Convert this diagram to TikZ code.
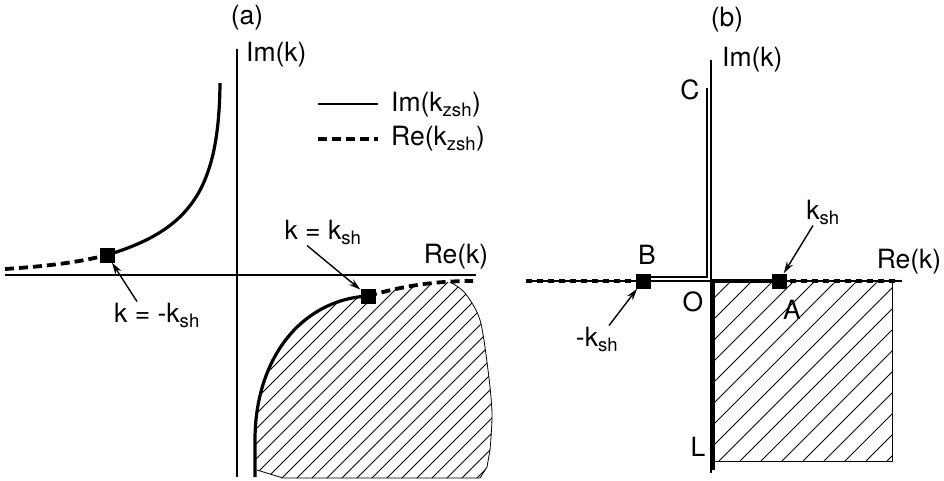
\documentclass[tikz,border=0pt]{standalone}
\usepackage{fontspec}
\setmainfont{TeX Gyre Heros}
\usetikzlibrary{arrows.meta}

\tikzset{
  axisline/.style={line width=1.4pt},
  contour/.style={line width=1.2pt},
  solidcurve/.style={line width=3.2pt},
  dashcurve/.style={line width=3.8pt, dash pattern=on 9pt off 5pt},
  dotcurve/.style={line width=4.2pt, dash pattern=on 6pt off 5pt},
  sqmark/.style={fill, inner sep=0pt, minimum size=15pt},
  lbl/.style={inner sep=1pt, font=\fontsize{26.5}{31}\selectfont},
  pointer/.style={line width=1.4pt, -{Stealth[length=12pt,width=7pt]}},
  hatch/.style={line width=0.8pt},
}

\begin{document}
\begin{tikzpicture}[x=1pt, y=-1pt]
\useasboundingbox (0,0) rectangle (944,480);

% ---------- panel (a) ----------
% hatched region
\begin{scope}
  \clip (255,477) -- (255,440) .. controls (255,360) and (300,300) .. (368,296)
    .. controls (392,289) and (415,284) .. (450,282)
    -- plot[smooth] coordinates {(450,282) (465,293) (480,320) (488,370) (492,413) (490,450)}
    -- (487,467) -- (480,478) -- (283,478) -- (257,470) -- cycle;
  \foreach \i in {0,...,30}
    \draw[hatch] ({\i*15+55},480) -- ++(210,-210);
\end{scope}
\draw[hatch] plot[smooth] coordinates {(450,282) (465,293) (480,320) (488,370) (492,413) (490,450)}
  -- (487,467) -- (480,478) -- (283,478) -- (257,470);

% axes
\draw[axisline] (237,49) -- (237,477);
\draw[axisline] (5,275) -- (476,275);

% curves
\node[sqmark] (sqMinus) at (107,255) {};
\node[sqmark] (sqPlus) at (368,296) {};
\draw[dashcurve] (5,269) .. controls (50,266) and (80,262) .. (sqMinus.center);
\draw[solidcurve] (sqMinus.center) .. controls (190,230) and (219,190) .. (220,83);
\draw[solidcurve] (255,477) -- (255,440) .. controls (255,360) and (300,300) .. (sqPlus.center);
\draw[dashcurve] (sqPlus.center) .. controls (400,287) and (430,281) .. (473,281);
\node[sqmark] at (sqMinus) {};
\node[sqmark] at (sqPlus) {};

% labels
\node[lbl] (titleA) at (247,18) {(a)};
\node[lbl, anchor=west] (imA) at (245,55) {Im(k)};
\node[lbl] (reA) at (456,257) {Re(k)};
\node[lbl] (lblMinus) at (157,315) {k = -k\textsubscript{sh}};
\node[lbl] (lblPlus) at (323,232) {k = k\textsubscript{sh}};
\draw[pointer] ([xshift=-20pt]lblMinus.north) -- (sqMinus);
\draw[pointer] ([xshift=-16pt]lblPlus.south) -- (sqPlus);

% legend
\node[lbl, anchor=west] (legIm) at (390,105) {Im(k\textsubscript{zsh})};
\node[lbl, anchor=west] (legRe) at (390,139) {Re(k\textsubscript{zsh})};
\draw[line width=2pt] (318,104) -- (378,104);
\draw[dashcurve] (318,139) -- (378,139);

% ---------- panel (b) ----------
\begin{scope}
  \clip (712,281) rectangle (892,461);
  \foreach \i in {0,...,18}
    \draw[hatch] ({\i*21+530},461) -- ++(190,-190);
\end{scope}
\draw[hatch] (712,461) -- (892,461) -- (892,281);

% axes
\draw[axisline] (711,60) -- (711,473);
\draw[axisline] (526,281) -- (902,281);

\node[sqmark] (sqB) at (643,281) {};
\node[sqmark] (sqA) at (779,281) {};
\coordinate (cornerO) at (707,277);

% contours
\draw[contour] (707,88) -- (cornerO) -- (cornerO -| sqB.east);
\draw[dotcurve] (526,281) -- (sqB.center);
\draw[dotcurve] (sqA.center) -- (900,281);
\draw[line width=3.5pt] (712,281) -- (sqA.center);
\draw[line width=3.5pt] (713,281) -- (713,470);
\node[sqmark] at (sqB) {};
\node[sqmark] at (sqA) {};

% labels
\node[lbl] (titleB) at (727,20) {(b)};
\node[lbl, anchor=west] (imB) at (721,60) {Im(k)};
\node[lbl] (lblC) at (690,90) {C};
\node[lbl] (lblB) at (647,255) {B};
\node[lbl] (lblO) at (693,302) {O};
\node[lbl] (lblA) at (792,310) {A};
\node[lbl] (lblL) at (698,447) {L};
\node[lbl] (reB) at (909,262) {Re(k)};
\node[lbl] (lblKsh) at (823,212) {k\textsubscript{sh}};
\node[lbl] (lblNegKsh) at (597,339) {-k\textsubscript{sh}};
\draw[pointer] ([xshift=-10pt]lblKsh.south) -- (sqA);
\draw[pointer] ([xshift=12pt]lblNegKsh.north) -- (sqB);
\end{tikzpicture}
\end{document}
